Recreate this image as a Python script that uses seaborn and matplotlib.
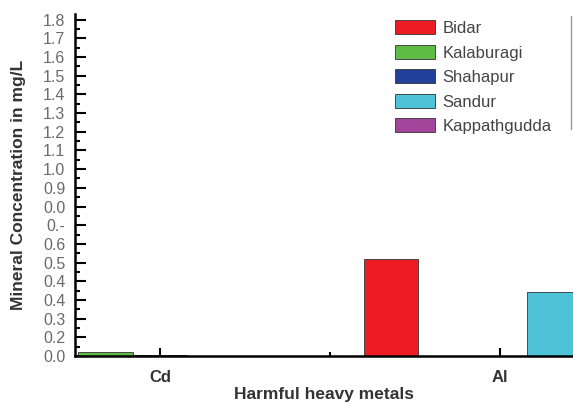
import pandas as pd
import seaborn as sns
import matplotlib.pyplot as plt
from matplotlib.lines import Line2D
from matplotlib.ticker import MultipleLocator

# values (mg/L)
metals = ['Cd', 'Al']
districts = ['Bidar', 'Kalaburagi', 'Shahapur', 'Sandur', 'Kappathgudda']
bidar = [0.0, 0.52]
kalaburagi = [0.02, 0.0]
shahapur = [0.005, 0.0]
sandur = [0.0, 0.344]
kappathgudda = [0.0, 0.0]
colors = ['#ED1C24', '#5DBB46', '#21409A', '#4EC3D8', '#A3459B']

# y tick labels as printed in the reference (garbled in the source)
ytick_vals = [i / 10 for i in range(19)]
ytick_labels = ['0.0', '0.2', '0.3', '0.4', '0.4', '0.5', '0.6', '0.-', '0.0', '0.9',
                '1.0', '1.1', '1.2', '1.3', '1.4', '1.5', '1.6', '1.7', '1.8']

rows = []
for name, vals in zip(districts, [bidar, kalaburagi, shahapur, sandur, kappathgudda]):
    for m, v in zip(metals, vals):
        rows.append({'metal': m, 'district': name, 'value': v})
df = pd.DataFrame(rows)

sns.set_style('white')
plt.rcParams['font.family'] = ['Liberation Sans', 'DejaVu Sans']

fig = plt.figure(figsize=(5.73, 4.04), dpi=100)
ax = fig.add_axes([0.131, 0.119, 0.869, 0.846])

sns.barplot(data=df, x='metal', y='value', hue='district', hue_order=districts,
            palette=colors, width=0.8, edgecolor='#333333', linewidth=0.6,
            saturation=1, ax=ax)

ax.set_xlim(-0.25, 1.215)
ax.set_ylim(0, 1.83)
ax.set_yticks(ytick_vals)
ax.set_yticklabels(ytick_labels, color='#6a6a6a', fontsize=11.5)
ax.yaxis.set_minor_locator(MultipleLocator(0.05))
ax.set_xticks([0, 1])
ax.set_xticklabels(metals, fontsize=12, fontweight='bold', color='#333333')
ax.xaxis.set_minor_locator(MultipleLocator(0.5))

ax.tick_params(axis='y', which='major', direction='in', length=8, width=1.5, pad=7, color='black', left=True)
ax.tick_params(axis='y', which='minor', direction='in', length=3.5, width=1.5, color='black', left=True)
ax.tick_params(axis='x', which='major', direction='in', length=6, width=1.5, pad=10, color='black', bottom=True)
ax.tick_params(axis='x', which='minor', direction='in', length=3, width=1.5, color='black', bottom=True)

for side in ['top', 'right']:
    ax.spines[side].set_visible(False)
for side in ['left', 'bottom']:
    ax.spines[side].set_linewidth(1.8)
    ax.spines[side].set_color('black')

ax.set_ylabel('Mineral Concentration in mg/L', fontsize=12.5, fontweight='bold', color='#333333', labelpad=12)
ax.set_xlabel('Harmful heavy metals', fontsize=12.5, fontweight='bold', color='#333333', labelpad=1.5)

ax.legend(loc='upper left', bbox_to_anchor=(0.678, 0.966), bbox_transform=fig.transFigure,
          frameon=False, fontsize=12, handlelength=2.4, handleheight=0.9,
          labelspacing=0.53, handletextpad=0.45, borderaxespad=0, labelcolor='#444444')

fig.add_artist(Line2D([0.997, 0.997], [0.68, 0.96], color='#999999', linewidth=1,
                      transform=fig.transFigure))

fig.savefig('out.png', dpi=100)
